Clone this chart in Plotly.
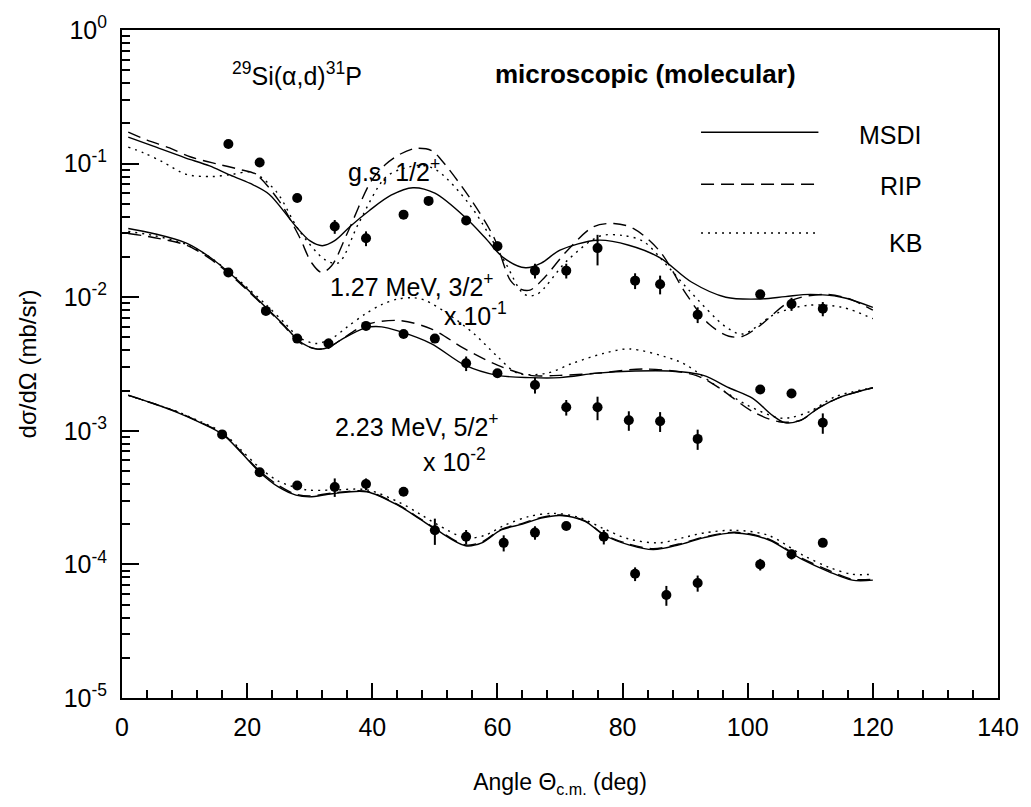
import plotly.graph_objects as go

# ---------------- measured cross sections (mb/sr) ----------------
gs_angle = [17, 22, 28, 34, 39, 45, 49, 55, 60, 66, 71, 76, 82, 86, 92, 102, 107, 112]
gs_sigma = [0.14, 0.102, 0.0553, 0.0338, 0.0276, 0.0415, 0.0526, 0.0375, 0.0241, 0.0158,
            0.0158, 0.0233, 0.0133, 0.0125, 0.0074, 0.0105, 0.0089, 0.0082]
gs_err = [0, 0, 0, 0.004, 0.0035, 0.003, 0, 0.002, 0.002, 0.002,
          0.002, 0.006, 0.0018, 0.002, 0.001, 0, 0.001, 0.001]

e127_angle = [17, 23, 28, 33, 39, 45, 50, 55, 60, 66, 71, 76, 81, 86, 92, 102, 107, 112]
e127_sigma = [0.0153, 0.0079, 0.0049, 0.0045, 0.0061, 0.0053, 0.0049, 0.0032, 0.0027, 0.0022,
              0.0015, 0.0015, 0.0012, 0.00118, 0.00087, 0.00204, 0.0019, 0.00115]
e127_err = [0, 0, 0, 0.0004, 0, 0, 0, 0.0004, 0, 0.0003,
            0.0002, 0.0003, 0.0002, 0.0002, 0.00015, 0, 0, 0.0002]

e223_angle = [16, 22, 28, 34, 39, 45, 50, 55, 61, 66, 71, 77, 82, 87, 92, 102, 107, 112]
e223_sigma = [0.00094, 0.00049, 0.00039, 0.00038, 0.0004, 0.00035, 0.00018, 0.000161, 0.000145,
              0.000173, 0.000194, 0.000161, 0.000085, 0.000059, 0.0000725, 0.0001, 0.000119, 0.000145]
e223_err = [0, 0, 0, 0.00006, 0.00004, 0, 0.00004, 0.00002, 0.00002,
            0.00002, 0, 0.00002, 0.00001, 0.00001, 0.00001, 0.00001, 0.00001, 0]

# ---------------- calculated angular distributions ----------------
# g.s. 1/2+
gs_msdi_x = [1, 5, 10, 14, 17, 20.5, 23.5, 27.8, 30, 32, 34, 36.5, 39.5, 43, 46.5, 50, 55, 58,
             61, 64.5, 67, 70, 76, 81, 86, 91, 96.5, 102, 106, 110, 115, 120]
gs_msdi_y = [0.158, 0.135, 0.111, 0.096, 0.083, 0.071, 0.059, 0.0338, 0.0265, 0.0243, 0.0265,
             0.034, 0.0444, 0.058, 0.066, 0.060, 0.039, 0.028, 0.0197, 0.0166, 0.018, 0.0225,
             0.0267, 0.0245, 0.0197, 0.0130, 0.0100, 0.0097, 0.0101, 0.0105, 0.0100, 0.0084]
gs_rip_x = [1, 4, 7.6, 11, 15.6, 19, 21.4, 25.1, 28.3, 30.3, 31.9, 33.5, 36.2, 39.8, 42.1, 44.5,
            47, 49.5, 51, 55.7, 59.5, 62.1, 63.7, 65.2, 67.5, 71.1, 75.4, 78.6, 81.7, 85.9, 90.2,
            93.8, 97, 99.2, 101.7, 107.1, 112.4, 116, 120]
gs_rip_y = [0.172, 0.150, 0.131, 0.112, 0.0984, 0.090, 0.083, 0.0526, 0.0286, 0.0181, 0.0153,
            0.0172, 0.0316, 0.0737, 0.0984, 0.118, 0.13, 0.125, 0.107, 0.0544, 0.0276, 0.0133,
            0.0115, 0.0113, 0.014, 0.0222, 0.0338, 0.0356, 0.0328, 0.0222, 0.0105, 0.0063,
            0.0051, 0.0051, 0.006, 0.0095, 0.0105, 0.0098, 0.0080]
gs_kb_x = [1, 3.5, 6.5, 10.3, 14.4, 17.5, 20.8, 24.6, 28.3, 32.5, 34.6, 37.8, 42.1, 45, 48, 50.5,
           55.7, 61.1, 64.3, 66.3, 71.1, 76.3, 80, 83.3, 87, 90.6, 96.5, 99.2, 104.4, 109.7,
           115.1, 120]
gs_kb_y = [0.133, 0.12, 0.103, 0.083, 0.080, 0.083, 0.086, 0.0622, 0.0316, 0.019, 0.0181, 0.0356,
           0.0788, 0.092, 0.097, 0.088, 0.0483, 0.0187, 0.0105, 0.0105, 0.0187, 0.0286, 0.029,
           0.0262, 0.0175, 0.0113, 0.006, 0.0053, 0.0075, 0.0087, 0.0084, 0.0069]

# 1.27 MeV 3/2+ (x 10^-1)
e127_msdi_x = [1, 5, 10.3, 14, 17.1, 20, 23, 26, 28.3, 31, 33, 35, 38.9, 41.5, 44.1, 49.4, 54.8,
               60, 65.2, 70, 76, 82, 87.5, 92.9, 97, 100.8, 104, 106, 108.5, 111.3, 115, 120]
e127_msdi_y = [0.0327, 0.030, 0.0254, 0.020, 0.0153, 0.0115, 0.0084, 0.0061, 0.0047, 0.0041,
               0.0042, 0.0048, 0.0059, 0.0060, 0.0056, 0.0045, 0.0031, 0.0026, 0.0025, 0.0025,
               0.0027, 0.0028, 0.0028, 0.0026, 0.0021, 0.00175, 0.0013, 0.00115, 0.0012,
               0.00148, 0.0018, 0.0021]
e127_rip_x = [1, 5, 10.3, 14, 17.1, 20, 23, 26, 28.3, 31, 33, 35, 38.9, 44.1, 49.4, 54.8, 60,
              65.2, 70, 75.9, 83.8, 91.7, 95.4, 100.8, 105, 108.5, 111.3, 115, 120]
e127_rip_y = [0.030, 0.028, 0.0245, 0.0195, 0.015, 0.0113, 0.0083, 0.0060, 0.0046, 0.0041,
              0.0042, 0.0048, 0.0062, 0.0067, 0.0058, 0.0041, 0.0031, 0.0026, 0.0026, 0.0027,
              0.0029, 0.0026, 0.0021, 0.00139, 0.00117, 0.0012, 0.00148, 0.0018, 0.0021]
e127_kb_x = [1, 5, 10.3, 14, 17.1, 20, 23, 26, 28.3, 31, 33.5, 36, 38.9, 41.5, 44.1, 46.5, 48.4,
             52.1, 56.3, 60, 63.2, 67.9, 72, 77, 81.1, 87.5, 90.2, 95.4, 100, 104.9, 107, 110,
             114, 120]
e127_kb_y = [0.031, 0.029, 0.0248, 0.02, 0.0155, 0.0118, 0.0088, 0.0064, 0.0050, 0.0045, 0.0049,
             0.0060, 0.0075, 0.0088, 0.0097, 0.0099, 0.0095, 0.0075, 0.0053, 0.0036, 0.0027,
             0.0027, 0.0032, 0.0038, 0.0041, 0.0035, 0.0031, 0.0021, 0.00155, 0.00125,
             0.00126, 0.0014, 0.0018, 0.0021]

# 2.23 MeV 5/2+ (x 10^-2)
e223_msdi_x = [1, 5, 8.7, 12, 16.1, 19, 22, 25, 27.8, 30, 33.6, 39.1, 44.4, 47.5, 50.3, 54.9,
               57.5, 60.6, 64, 67, 70, 74, 77, 81, 84.9, 89, 92.9, 98, 103.3, 108.7, 113,
               116.7, 120]
e223_msdi_y = [0.00184, 0.0016, 0.00138, 0.00118, 0.00094, 0.00069, 0.00049, 0.00038, 0.00033,
               0.00032, 0.000338, 0.00035, 0.000272, 0.00022, 0.000181, 0.000138, 0.000145,
               0.000181, 0.0002, 0.000222, 0.000232, 0.00021, 0.000166, 0.00014, 0.000129,
               0.00014, 0.000158, 0.000172, 0.000153, 0.000109, 0.000088, 0.0000762, 0.0000762]
e223_rip_x = e223_msdi_x
e223_rip_y = [0.00185, 0.0016, 0.00139, 0.00119, 0.00095, 0.0007, 0.0005, 0.00039, 0.000335,
              0.000325, 0.000342, 0.000352, 0.000275, 0.000222, 0.000183, 0.00014, 0.000147,
              0.000183, 0.000203, 0.000225, 0.000234, 0.000212, 0.000168, 0.000142, 0.000131,
              0.000142, 0.00016, 0.000174, 0.000155, 0.000111, 0.00009, 0.0000775, 0.0000775]
e223_kb_x = [1, 5, 8.7, 12, 16.1, 19, 22, 25, 29.4, 33.6, 39.1, 44.4, 47.5, 50.3, 54.9, 58, 61,
             65, 69, 73, 77, 81, 85.9, 90, 93, 98, 103.3, 108.7, 113, 116.7, 120]
e223_kb_y = [0.00184, 0.0016, 0.0014, 0.0012, 0.00097, 0.00072, 0.00053, 0.00042, 0.000362,
             0.00036, 0.000362, 0.00029, 0.00024, 0.0002, 0.000158, 0.000165, 0.000195, 0.000228,
             0.000241, 0.000225, 0.000185, 0.000155, 0.000145, 0.00016, 0.000172, 0.00018,
             0.000165, 0.000118, 0.000095, 0.0000844, 0.0000844]

# ---------------- axis ticks ----------------
x_range = [0, 140]
x_ticks = [0, 20, 40, 60, 80, 100, 120, 140]
y_range_log = [-5, 0]
y_ticks = [1e-5, 1e-4, 1e-3, 1e-2, 1e-1, 1]
y_ticktext = ["10<sup>-5</sup>", "10<sup>-4</sup>", "10<sup>-3</sup>",
              "10<sup>-2</sup>", "10<sup>-1</sup>", "10<sup>0</sup>"]
y_minor = [m * 10.0 ** e for e in range(-5, 0) for m in range(2, 10)]

FONT = "Liberation Sans, Arial, sans-serif"
DASH = {"MSDI": "solid", "RIP": "13px,7px", "KB": "2px,5px"}

fig = go.Figure()

curves = [
    (gs_msdi_x, gs_msdi_y, "MSDI"), (gs_rip_x, gs_rip_y, "RIP"), (gs_kb_x, gs_kb_y, "KB"),
    (e127_msdi_x, e127_msdi_y, "MSDI"), (e127_rip_x, e127_rip_y, "RIP"), (e127_kb_x, e127_kb_y, "KB"),
    (e223_msdi_x, e223_msdi_y, "MSDI"), (e223_rip_x, e223_rip_y, "RIP"), (e223_kb_x, e223_kb_y, "KB"),
]
for xs, ys, name in curves:
    fig.add_trace(go.Scatter(
        x=xs, y=ys, mode="lines", name=name, showlegend=False,
        line=dict(color="black", width=1.4, dash=DASH[name], shape="spline", smoothing=0.9),
        hoverinfo="skip"))

for ang, sig, err in [(gs_angle, gs_sigma, gs_err),
                      (e127_angle, e127_sigma, e127_err),
                      (e223_angle, e223_sigma, e223_err)]:
    fig.add_trace(go.Scatter(
        x=ang, y=sig, mode="markers", showlegend=False,
        marker=dict(symbol="circle", size=10, color="black"),
        error_y=dict(type="data", array=err, visible=True, color="black",
                     thickness=2, width=0)))

# legend keys
legend_rows = [("MSDI", 0.847, 0.843), ("RIP", 0.769, 0.766), ("KB", 0.696, 0.681)]
for name, yl, yt in legend_rows:
    fig.add_shape(type="line", xref="paper", yref="paper", x0=0.661, x1=0.795, y0=yl, y1=yl,
                  line=dict(color="black", width=1.4, dash=DASH[name]))
    fig.add_annotation(xref="paper", yref="paper", x=0.915, y=yt, text=name, showarrow=False,
                       xanchor="right", yanchor="middle", font=dict(family=FONT, size=25, color="black"))

labels = [
    (0.1998, 0.934, "<sup>29</sup>Si(α,d)<sup>31</sup>P", 25),
    (0.598, 0.934, "<b>microscopic (molecular)</b>", 26),
    (0.31, 0.791, "g.s, 1/2<sup>+</sup>", 25),
    (0.331, 0.618, "1.27 MeV, 3/2<sup>+</sup>", 25),
    (0.404, 0.575, "x.10<sup>-1</sup>", 25),
    (0.337, 0.409, "2.23 MeV, 5/2<sup>+</sup>", 25),
    (0.379, 0.357, "x 10<sup>-2</sup>", 25),
]
for x, y, txt, size in labels:
    fig.add_annotation(xref="paper", yref="paper", x=x, y=y, text=txt, showarrow=False,
                       xanchor="center", yanchor="middle",
                       font=dict(family=FONT, size=size, color="black"))

tick_common = dict(ticks="inside", tickwidth=2, tickcolor="black", showgrid=False,
                   zeroline=False, showline=True, linecolor="black", linewidth=2)

fig.update_layout(
    width=1031, height=807,
    margin=dict(l=122, r=28, t=18, b=109),
    paper_bgcolor="white", plot_bgcolor="white",
    font=dict(family=FONT, color="black"),
    xaxis=dict(
        range=x_range, tickvals=x_ticks, ticklen=15, mirror=True,
        tickfont=dict(family=FONT, size=25), ticklabelstandoff=6,
        minor=dict(dtick=4, tick0=0, ticks="inside", ticklen=8, tickwidth=1.5, tickcolor="black"),
        title=dict(text="Angle Θ<sub>c.m.</sub> (deg)", font=dict(family=FONT, size=23), standoff=34),
        **tick_common,
    ),
    xaxis2=dict(
        range=x_range, tickvals=x_ticks, ticklen=15, overlaying="x", side="top",
        showticklabels=False,
        minor=dict(dtick=4, tick0=0, ticks="inside", ticklen=8, tickwidth=1.5, tickcolor="black"),
        **tick_common,
    ),
    yaxis=dict(
        type="log", range=y_range_log, tickvals=y_ticks, ticktext=y_ticktext,
        ticklen=17, mirror=True,
        tickfont=dict(family=FONT, size=25), ticklabelstandoff=8,
        minor=dict(tickvals=y_minor, ticks="inside", ticklen=8, tickwidth=1.5, tickcolor="black"),
        title=dict(text="dσ/dΩ (mb/sr)", font=dict(family=FONT, size=24), standoff=20),
        **tick_common,
    ),
    yaxis2=dict(
        type="log", range=y_range_log, tickvals=y_ticks, ticklen=17, overlaying="y", side="right",
        showticklabels=False,
        minor=dict(tickvals=y_minor, ticks="inside", ticklen=8, tickwidth=1.5, tickcolor="black"),
        **tick_common,
    ),
)

fig.write_html("out.html")
